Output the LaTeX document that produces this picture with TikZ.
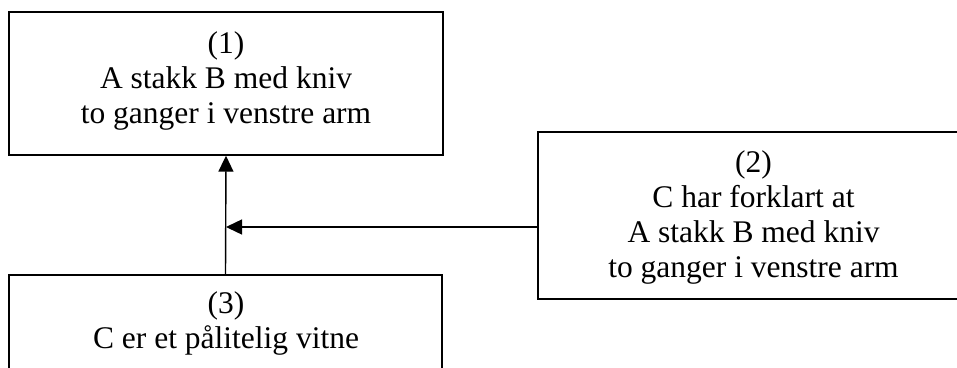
\documentclass[tikz,border=0pt]{standalone}
\usepackage{fontspec}
\setmainfont{Liberation Serif}
\usetikzlibrary{arrows.meta}
\begin{document}
\begin{tikzpicture}[x=1pt,y=-1pt,
  boxshape/.style={draw=black, line width=1.4pt, rectangle, inner sep=0pt},
  label/.style={align=center, inner sep=0pt, anchor=north, font=\fontsize{31.5}{35}\selectfont},
  conn/.style={line width=1.4pt, -{Triangle[length=16pt,width=15pt]}}]
\useasboundingbox (0,0) rectangle (957,367);
\clip (0,0) rectangle (957,367);
\fill[white] (0,0) rectangle (957,367);
\node[boxshape, minimum width=434pt, minimum height=143pt] (b1) at (226,83.5) {};
\node[boxshape, minimum width=432pt, minimum height=167pt] (b2) at (754,215.5) {};
\node[boxshape, minimum width=433pt, minimum height=150pt] (b3) at (225.5,350) {};
\node[label] (t1) at (226,31) {(1)\\A stakk B med kniv\\to ganger i venstre arm};
\node[label] (t2) at (753.5,150) {(2)\\C har forklart at\\A stakk B med kniv\\to ganger i venstre arm};
\node[label] (t3) at (226,291) {(3)\\C er et pålitelig vitne};
\coordinate (j) at (226,227);
\draw[conn] (b3.north) -- (b1.south);
\draw[conn] (b2.west |- j) -- (j);
\end{tikzpicture}
\end{document}
